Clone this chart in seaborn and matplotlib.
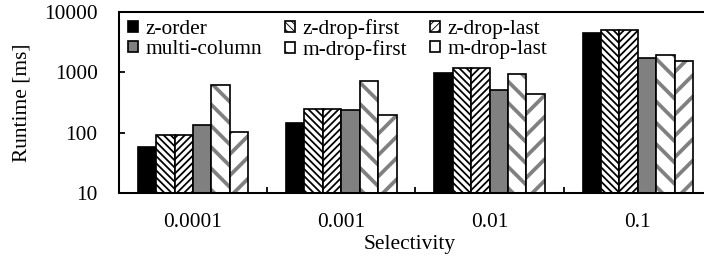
import numpy as np
import pandas as pd
import seaborn as sns
import matplotlib as mpl
import matplotlib.pyplot as plt

# values
selectivity = ["0.0001", "0.001", "0.01", "0.1"]
methods = ["z-order", "z-drop-first", "z-drop-last", "multi-column", "m-drop-first", "m-drop-last"]
z_order = [58, 143, 990, 4450]
z_drop_first = [92, 247, 1200, 5050]
z_drop_last = [92, 247, 1200, 5050]
multi_column = [134, 238, 510, 1710]
m_drop_first = [620, 720, 940, 1940]
m_drop_last = [104, 197, 438, 1545]
yticks = [10, 100, 1000, 10000]

runtimes = [z_order, z_drop_first, z_drop_last, multi_column, m_drop_first, m_drop_last]
rows = []
for m, vals in zip(methods, runtimes):
    for s, v in zip(selectivity, vals):
        rows.append({"Selectivity": s, "method": m, "runtime": v})
df = pd.DataFrame(rows)

# face, hatch, hatch colour, hatch linewidth
styles = {
    "z-order": ("black", "", "black", 1.0),
    "z-drop-first": ("white", "\\\\\\", "black", 2.0),
    "z-drop-last": ("white", "///", "black", 2.0),
    "multi-column": ("#808080", "", "black", 1.0),
    "m-drop-first": ("white", "\\", "#808080", 4.2),
    "m-drop-last": ("white", "/", "#808080", 4.2),
}

DPI = 64
plt.rcParams["font.family"] = ["Liberation Serif", "DejaVu Serif"]
plt.rcParams["font.size"] = 24

fig = plt.figure(figsize=(704 / DPI, 258 / DPI), dpi=DPI)
ax = fig.add_axes([0.1688, 0.252, 0.8426, 0.7016])

sns.barplot(data=df, x="Selectivity", y="runtime", hue="method",
            order=selectivity, hue_order=methods, width=0.746,
            errorbar=None, legend=False, ax=ax)
ax.set_yscale("log")

for cont, m in zip(ax.containers, methods):
    face, hatch, hcol, hlw = styles[m]
    for bar in cont:
        bar.set_facecolor(face)
        bar.set_edgecolor("black")
        bar.set_linewidth(1.9)
        bar.set_hatch(hatch)
        bar._hatch_color = mpl.colors.to_rgba(hcol)
        if hasattr(bar, "set_hatch_linewidth"):
            bar.set_hatch_linewidth(hlw)
        else:
            bar._hatch_linewidth = hlw

ax.set_xlim(-0.5, 3.5)
ax.set_ylim(10, 10000)
ax.set_yticks(yticks)
ax.set_yticklabels([str(t) for t in yticks])
ax.yaxis.set_minor_locator(mpl.ticker.NullLocator())
ax.tick_params(axis="y", direction="in", length=6.5, width=2, pad=24)
ax.set_xticks(range(len(selectivity)))
ax.set_xticklabels(selectivity)
ax.set_xticks([0.5, 1.5, 2.5], minor=True)
ax.tick_params(axis="x", which="major", length=0, pad=22)
ax.tick_params(axis="x", which="minor", direction="in", length=7, width=2)
for sp in ax.spines.values():
    sp.set_linewidth(2.3)

ax.set_xlabel("Selectivity")
ax.xaxis.label.set_va("baseline")
ax.xaxis.set_label_coords(0.491, -0.309)
ax.set_ylabel("Runtime [ms]")
ax.yaxis.label.set_va("center")
ax.yaxis.set_label_coords(-0.163, 0.5)

order = [0, 3, 1, 4, 2, 5]
ax.legend([ax.containers[i] for i in order], [methods[i] for i in order],
          ncol=3, loc="upper left", bbox_to_anchor=(0.0155, 0.96),
          frameon=False, borderaxespad=0, borderpad=0,
          handlelength=0.45, handleheight=0.45, handletextpad=0.35,
          labelspacing=0.05, columnspacing=1.1)

fig.savefig("out.png", dpi=DPI)
